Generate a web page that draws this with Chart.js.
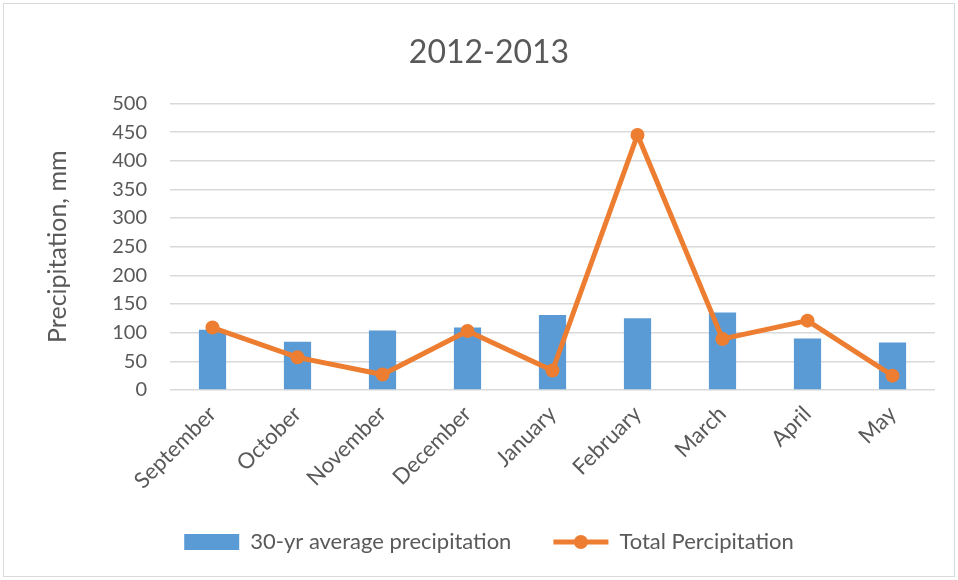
<!DOCTYPE html>
<html>
<head>
<meta charset="utf-8">
<script src="https://cdn.jsdelivr.net/npm/chart.js@4.4.0/dist/chart.umd.min.js"></script>
<style>
  html, body { margin: 0; padding: 0; background: #ffffff; }
  #wrap { position: relative; width: 958px; height: 580px; }
</style>
</head>
<body>
<div id="wrap"><canvas id="precipChart"></canvas></div>
<script>
// chart data
const months = ["September", "October", "November", "December", "January", "February", "March", "April", "May"];
const avgPrecip = [105, 84, 104, 109, 131, 125, 135, 90, 83];
const totalPrecip = [109, 57, 27, 103, 34, 445, 89, 121, 25];
const yTicks = [0, 50, 100, 150, 200, 250, 300, 350, 400, 450, 500];

const textColor = "#595959";
const barColor = "#5B9BD5";
const lineColor = "#ED7D31";

Chart.defaults.font.family = "Lato, 'Open Sans', sans-serif";
Chart.defaults.color = textColor;

// light frame around the whole chart, and the dot on the line legend swatch
const framePlugin = {
    id: "frame",
    beforeDraw(chart) {
        const ctx = chart.ctx;
        ctx.save();
        ctx.fillStyle = "#ffffff";
        ctx.fillRect(0, 0, chart.width, chart.height);
        ctx.strokeStyle = "#d9d9d9";
        ctx.lineWidth = 1;
        ctx.strokeRect(3.5, 3.5, chart.width - 7, chart.height - 7);
        ctx.restore();
    },
    afterDraw(chart) {
        const legend = chart.legend;
        if (!legend || !legend.legendHitBoxes || legend.legendHitBoxes.length < 2) return;
        const hb = legend.legendHitBoxes[1];
        const boxW = legend.options.labels.pointStyleWidth;
        const ctx = chart.ctx;
        ctx.save();
        ctx.fillStyle = lineColor;
        ctx.beginPath();
        ctx.arc(hb.left + boxW / 2, hb.top + legend.options.labels.font.size / 2, 7, 0, Math.PI * 2);
        ctx.fill();
        ctx.restore();
    }
};

const ctx = document.getElementById("precipChart").getContext("2d");

new Chart(ctx, {
    type: "bar",
    data: {
        labels: months,
        datasets: [
            {
                type: "bar",
                label: "30-yr average precipitation",
                data: avgPrecip,
                backgroundColor: barColor,
                barPercentage: 0.32,
                categoryPercentage: 1.0,
                order: 2
            },
            {
                type: "line",
                label: "Total Percipitation",
                data: totalPrecip,
                borderColor: lineColor,
                backgroundColor: lineColor,
                borderWidth: 5,
                pointRadius: 7,
                pointHoverRadius: 7,
                pointBackgroundColor: lineColor,
                pointBorderWidth: 0,
                tension: 0,
                order: 1
            }
        ]
    },
    options: {
        responsive: true,
        maintainAspectRatio: false,
        animation: false,
        layout: {
            padding: { left: 43, right: 23, top: 4, bottom: 17 }
        },
        scales: {
            x: {
                grid: { display: false, drawTicks: false },
                border: { display: false },
                ticks: {
                    color: textColor,
                    font: { size: 22 },
                    minRotation: 45,
                    maxRotation: 45,
                    padding: 11
                },
                afterFit: function(scale) {
                    scale.height = 99;
                }
            },
            y: {
                min: 0,
                max: 500,
                afterBuildTicks: function(scale) {
                    scale.ticks = yTicks.map(v => ({ value: v }));
                },
                grid: { color: "#d9d9d9", lineWidth: 1.5, drawTicks: false },
                border: { display: false },
                ticks: {
                    color: textColor,
                    font: { size: 20 },
                    padding: 23
                },
                title: {
                    display: true,
                    text: "Precipitation, mm",
                    color: textColor,
                    font: { size: 25 },
                    padding: { top: 0, bottom: 0 }
                },
                afterFit: function(scale) {
                    scale.width = 127;
                }
            }
        },
        plugins: {
            title: {
                display: true,
                text: "2012-2013",
                color: textColor,
                font: { size: 32, weight: "normal" },
                padding: { top: 29, bottom: 32 }
            },
            legend: {
                position: "bottom",
                labels: {
                    usePointStyle: true,
                    pointStyleWidth: 55,
                    boxHeight: 16,
                    padding: 42,
                    color: textColor,
                    font: { size: 22 },
                    generateLabels: function(chart) {
                        return chart.data.datasets.map((ds, i) => ({
                            text: ds.label,
                            datasetIndex: i,
                            fillStyle: ds.type === "line" ? lineColor : barColor,
                            strokeStyle: ds.type === "line" ? lineColor : barColor,
                            lineWidth: ds.type === "line" ? 5 : 0,
                            pointStyle: ds.type === "line" ? "line" : "rect",
                            fontColor: textColor,
                            hidden: false
                        }));
                    }
                }
            },
            tooltip: { enabled: false }
        }
    },
    plugins: [framePlugin]
});
</script>
</body>
</html>
